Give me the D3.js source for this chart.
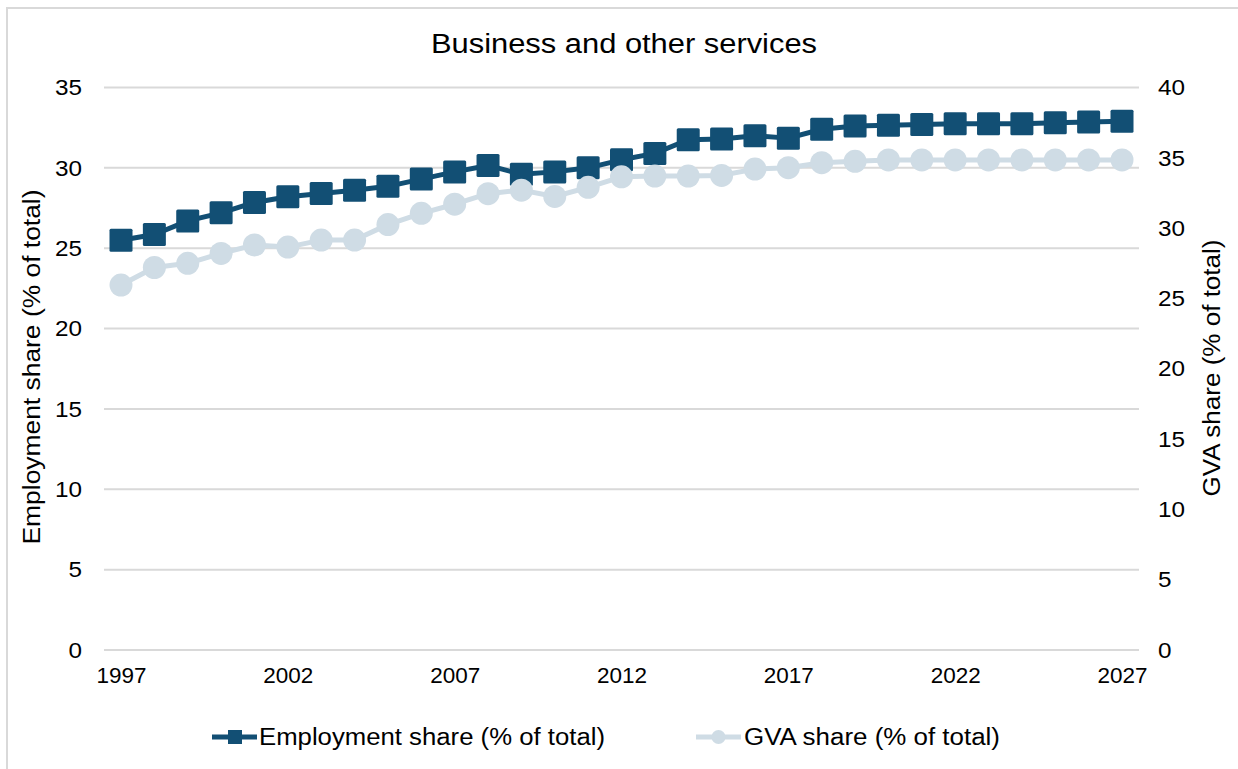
<!DOCTYPE html>
<html>
<head>
<meta charset="utf-8">
<script src="https://cdn.jsdelivr.net/npm/d3@7"></script>
<style>
  html, body { margin: 0; padding: 0; background: #fff; }
  svg { display: block; font-family: "Liberation Sans", Arial, sans-serif; }
</style>
</head>
<body>
<svg id="chart" width="1238" height="769"></svg>
<script>
// Years on the category axis
const years = d3.range(1997, 2028);
// Employment share of total (%), left axis
const employment = [25.5, 25.85, 26.7, 27.2, 27.85, 28.2, 28.4, 28.6, 28.85, 29.3,
  29.75, 30.15, 29.6, 29.75, 30.0, 30.5, 30.9, 31.75, 31.8, 32.0,
  31.85, 32.4, 32.6, 32.65, 32.7, 32.75, 32.75, 32.75, 32.8, 32.85, 32.9];
// GVA share of total (%), right axis
const gva = [25.95, 27.2, 27.5, 28.2, 28.8, 28.65, 29.15, 29.15, 30.25, 31.05,
  31.7, 32.45, 32.7, 32.25, 32.9, 33.65, 33.7, 33.7, 33.75, 34.2,
  34.3, 34.65, 34.75, 34.85, 34.85, 34.85, 34.85, 34.85, 34.85, 34.85, 34.85];
const leftTicks = [0, 5, 10, 15, 20, 25, 30, 35];
const rightTicks = [0, 5, 10, 15, 20, 25, 30, 35, 40];
const yearTicks = [1997, 2002, 2007, 2012, 2017, 2022, 2027];
const seriesNames = ["Employment share (% of total)", "GVA share (% of total)"];
const title = "Business and other services";

const dark = "#124f74", light = "#cfdce5", grid = "#d9d9d9", ink = "#000";

const svg = d3.select("#chart");

// Outer frame
svg.append("rect").attr("x", 7).attr("y", 8).attr("width", 1260).attr("height", 800)
  .attr("fill", "none").attr("stroke", grid).attr("stroke-width", 2);

const x = d3.scaleLinear().domain([1997, 2027]).range([121, 1122]);
const yL = d3.scaleLinear().domain([0, 35]).range([650, 87.5]);
const yR = d3.scaleLinear().domain([0, 40]).range([650, 87.5]);
const plotLeft = 104, plotRight = 1139;

// Gridlines
svg.append("g").selectAll("line").data(leftTicks).join("line")
  .attr("x1", plotLeft).attr("x2", plotRight)
  .attr("y1", d => yL(d)).attr("y2", d => yL(d))
  .attr("stroke", grid).attr("stroke-width", 2);

// Text is set slightly wide, as in the exported chart
function wide(sel, len) {
  sel.attr("textLength", len).attr("lengthAdjust", "spacingAndGlyphs");
}

// Left axis labels
const axL = svg.append("g").attr("transform", `translate(${plotLeft - 22},0)`)
  .call(d3.axisLeft(yL).tickValues(leftTicks).tickSize(0).tickPadding(0));
axL.select(".domain").remove();
axL.selectAll("text").attr("font-size", 22.5).attr("fill", ink).attr("font-family", null)
  .each(function(d) { wide(d3.select(this), String(d).length * 13.5); });

// Right axis labels
const axR = svg.append("g").attr("transform", `translate(${plotRight + 19},0)`)
  .call(d3.axisRight(yR).tickValues(rightTicks).tickSize(0).tickPadding(0));
axR.select(".domain").remove();
axR.selectAll("text").attr("font-size", 22.5).attr("fill", ink).attr("font-family", null)
  .each(function(d) { wide(d3.select(this), String(d).length * 13.5); });

// Bottom axis labels
const axB = svg.append("g").attr("transform", `translate(0,${yL(0) + 17})`)
  .call(d3.axisBottom(x).tickValues(yearTicks).tickFormat(d3.format("d")).tickSize(0).tickPadding(0));
axB.select(".domain").remove();
axB.selectAll("text").attr("font-size", 22.5).attr("fill", ink).attr("font-family", null)
  .each(function() { wide(d3.select(this), 50); });

// Title
svg.append("text").attr("x", 624).attr("y", 53).attr("text-anchor", "middle")
  .attr("font-size", 27).attr("fill", ink).text(title).call(wide, 386);

// Axis titles
svg.append("text").attr("transform", `translate(40,367) rotate(-90)`)
  .attr("text-anchor", "middle").attr("font-size", 23).attr("fill", ink).text(seriesNames[0]).call(wide, 355);
svg.append("text").attr("transform", `translate(1220,368) rotate(-90)`)
  .attr("text-anchor", "middle").attr("font-size", 23).attr("fill", ink).text(seriesNames[1]).call(wide, 257);

// Employment series
const lineL = d3.line().x((d, i) => x(years[i])).y(d => yL(d));
svg.append("path").datum(employment).attr("d", lineL)
  .attr("fill", "none").attr("stroke", dark).attr("stroke-width", 5).attr("stroke-linejoin", "round");
const sq = 23;
svg.append("g").selectAll("rect").data(employment).join("rect")
  .attr("x", (d, i) => x(years[i]) - sq / 2).attr("y", d => yL(d) - sq / 2)
  .attr("width", sq).attr("height", sq).attr("rx", 1.5).attr("fill", dark);

// GVA series
const lineR = d3.line().x((d, i) => x(years[i])).y(d => yR(d));
svg.append("path").datum(gva).attr("d", lineR)
  .attr("fill", "none").attr("stroke", light).attr("stroke-width", 5).attr("stroke-linejoin", "round");
svg.append("g").selectAll("circle").data(gva).join("circle")
  .attr("cx", (d, i) => x(years[i])).attr("cy", d => yR(d)).attr("r", 11.5).attr("fill", light);

// Legend
const legY = 737;
const leg = svg.append("g");
leg.append("line").attr("x1", 212).attr("x2", 257).attr("y1", legY).attr("y2", legY)
  .attr("stroke", dark).attr("stroke-width", 5);
leg.append("rect").attr("x", 228).attr("y", legY - 7).attr("width", 14).attr("height", 14).attr("fill", dark);
leg.append("text").attr("x", 259).attr("y", legY + 8).attr("font-size", 23).attr("fill", ink)
  .text(seriesNames[0]).call(wide, 346);
leg.append("line").attr("x1", 696).attr("x2", 741).attr("y1", legY).attr("y2", legY)
  .attr("stroke", light).attr("stroke-width", 5);
leg.append("circle").attr("cx", 718.5).attr("cy", legY).attr("r", 7).attr("fill", light);
leg.append("text").attr("x", 744).attr("y", legY + 8).attr("font-size", 23).attr("fill", ink)
  .text(seriesNames[1]).call(wide, 256);
</script>
</body>
</html>
